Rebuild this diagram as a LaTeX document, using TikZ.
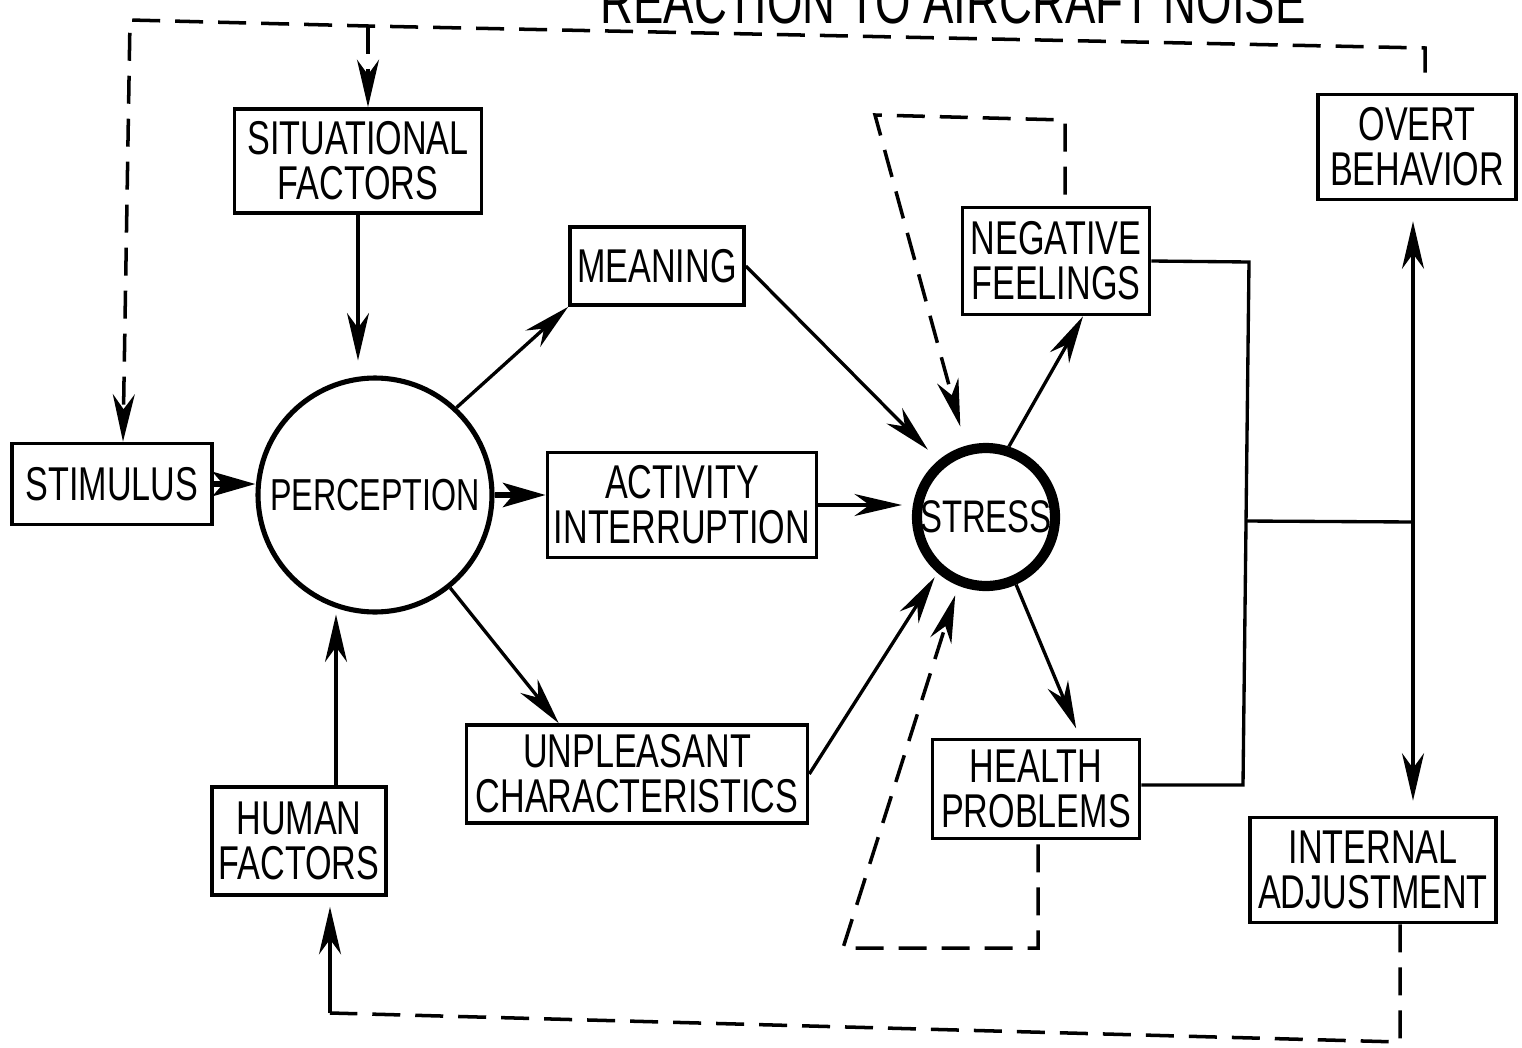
\documentclass[tikz,border=0pt]{standalone}
\usepackage{fontspec}
\setmainfont{Liberation Sans}[FakeStretch=0.72]
\usetikzlibrary{arrows.meta,calc}
\newcommand\boxfont{\fontsize{27}{25.5}\selectfont}
\begin{document}
\begin{tikzpicture}[x=0.02cm,y=-0.02cm,
  box/.style={draw,line width=2.1pt,align=center,inner sep=0pt,font=\boxfont},
  ln/.style={line width=1.9pt},
  arr/.style={ln,-{Stealth[length=0.95cm,width=0.44cm,inset=0.3cm]}},
  fatarr/.style={line width=3.6pt,-{Stealth[length=0.85cm,width=0.48cm,inset=0.2cm]}},
  fb/.style={line width=2pt,dash pattern=on 0.56cm off 0.3cm},
  fbarr/.style={fb,-{Stealth[length=0.95cm,width=0.44cm,inset=0.3cm]}},
]
\useasboundingbox (0,0) rectangle (1522,1048);
\clip (0,0) rectangle (1522,1048);

\node[anchor=base,font=\fontsize{36}{36}\selectfont,inner sep=0pt] (title) at (953,23) {REACTION TO AIRCRAFT NOISE};

\node[box,minimum width=4.94cm,minimum height=2.08cm] (sit) at (358,161) {SITUATIONAL\\FACTORS};
\node[box,minimum width=3.48cm,minimum height=1.56cm] (mean) at (657,266) {MEANING};
\node[box,minimum width=5.38cm,minimum height=2.1cm] (act) at (682,505) {ACTIVITY\\INTERRUPTION};
\node[box,minimum width=4cm,minimum height=1.62cm] (stim) at (112,484) {STIMULUS};
\node[box,minimum width=3.74cm,minimum height=2.14cm] (neg) at (1056,261) {NEGATIVE\\FEELINGS};
\node[box,minimum width=3.96cm,minimum height=2.1cm] (ob) at (1417,147) {OVERT\\BEHAVIOR};
\node[box,minimum width=4.14cm,minimum height=1.98cm] (hp) at (1036,789) {HEALTH\\PROBLEMS};
\node[box,minimum width=6.82cm,minimum height=1.96cm] (unp) at (637,774) {UNPLEASANT\\CHARACTERISTICS};
\node[box,minimum width=3.48cm,minimum height=2.16cm] (hf) at (299,841) {HUMAN\\FACTORS};
\node[box,minimum width=4.92cm,minimum height=2.1cm] (ia) at (1373,870) {INTERNAL\\ADJUSTMENT};
\node[circle,draw,line width=2.9pt,minimum size=4.68cm,inner sep=0pt,font=\fontsize{25.5}{25.5}\selectfont] (perc) at (375,495) {\makebox[0pt]{PERCEPTION}};
\node[circle,draw,line width=5.8pt,minimum size=2.76cm,inner sep=0pt,font=\fontsize{26}{26}\selectfont] (stress) at (986,517) {\makebox[0pt]{STRESS}};

% solid connectors
\draw[fatarr] (stim.east) -- (stim.east -| perc.west);
\draw[fatarr] (perc.east) -- (perc.east -| act.west);
\draw[arr,shorten >=0.3cm] (sit.south) -- (sit.south |- perc.north);
\coordinate (hfn) at ($(hf.north)+(37,0)$);
\draw[arr] (hfn) -- (hfn |- perc.south);
\draw[arr] (perc.47) -- (mean.south west);
\draw[arr] (perc.-51) -- ($(unp.north west)+(94,0)$);
\draw[arr,shorten >=0.3cm] (mean.east) -- (stress.130);
\draw[arr,shorten >=0.2cm] (act.east) -- (act.east -| stress.west);
\draw[arr,shorten >=0.1cm] (unp.east) -- (stress.229);
\draw[arr] (stress.72) -- ($(neg.south)+(27,0)$);
\draw[arr,shorten >=0.2cm] (stress.-66) -- ($(hp.north)+(44,0)$);

% bracket on the right
\coordinate (bx1) at (1249,262);
\coordinate (bx2) at (1243,785);
\draw[ln] (neg.east) -- (bx1) -- (bx2) -- (bx2 -| hp.east);
\coordinate (bm) at (1245,521);
\coordinate (vm) at (1413,522);
\draw[ln] (bm) -- (vm);
\draw[arr,shorten >=0.4cm] (vm) -- (vm |- ob.south);
\draw[arr,shorten >=0.3cm] (vm) -- (vm |- ia.north);

% dashed feedback loops
\coordinate (nl1) at (1065,120);
\coordinate (nl2) at (875,115);
\draw[fbarr,shorten >=0.4cm] ($(neg.north)+(9,-11)$) -- (nl1) -- (nl2) -- (stress.106);
\coordinate (hl1) at (1038,948);
\coordinate (hl2) at (843,948);
\draw[fbarr,shorten >=0.2cm] ($(hp.south)+(2,4)$) -- (hl1) -- (hl2) -- (stress.248);

\coordinate (tr) at (1425,48);
\coordinate (tb) at (368,26);
\coordinate (tl) at (130,20);
\draw[fbarr] ($(ob.north)+(8,-20)$) -- (tr) -- (tb) -- (tl) -- ($(stim.north)+(11,0)$);
\draw[fbarr] (tb) -- (tb |- sit.north);

\coordinate (ib) at (1400,1042);
\coordinate (bl) at (330,1013);
\draw[fb] ($(ia.south)+(27,0)$) -- (ib) -- (bl);
\draw[arr,shorten >=0.2cm] (bl) -- (bl |- hf.south);
\end{tikzpicture}
\end{document}
